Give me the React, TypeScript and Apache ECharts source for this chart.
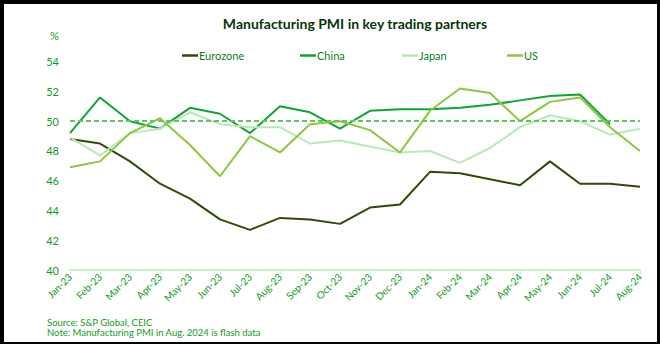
import React, { useEffect, useRef } from "react";
import * as echarts from "echarts";

const categories = [
  "Jan-23", "Feb-23", "Mar-23", "Apr-23", "May-23", "Jun-23", "Jul-23", "Aug-23", "Sep-23", "Oct-23",
  "Nov-23", "Dec-23", "Jan-24", "Feb-24", "Mar-24", "Apr-24", "May-24", "Jun-24", "Jul-24", "Aug-24",
];
const eurozone = [48.8, 48.5, 47.3, 45.8, 44.8, 43.4, 42.7, 43.5, 43.4, 43.1, 44.2, 44.4, 46.6, 46.5, 46.1, 45.7, 47.3, 45.8, 45.8, 45.6];
const china = [49.2, 51.6, 50.0, 49.5, 50.9, 50.5, 49.2, 51.0, 50.6, 49.5, 50.7, 50.8, 50.8, 50.9, 51.1, 51.4, 51.7, 51.8, 49.8, null];
const japan = [48.9, 47.7, 49.2, 49.5, 50.6, 49.8, 49.6, 49.6, 48.5, 48.7, 48.3, 47.9, 48.0, 47.2, 48.2, 49.6, 50.4, 50.0, 49.1, 49.5];
const us = [46.9, 47.3, 49.2, 50.2, 48.4, 46.3, 49.0, 47.9, 49.8, 50.0, 49.4, 47.9, 50.7, 52.2, 51.9, 50.0, 51.3, 51.6, 49.6, 48.0];
const threshold = 50;

const FONT = "Lato";
const TXT = "#129a20";

export default function App() {
  const ref = useRef<HTMLDivElement>(null);
  useEffect(() => {
    if (!ref.current) return;
    const chart = echarts.init(ref.current, undefined, { renderer: "svg" });
    const mk = (name: string, data: (number | null)[], color: string, extra: any = {}) => ({
      name,
      type: "line",
      data,
      symbol: "none",
      showSymbol: false,
      lineStyle: { color, width: 2 },
      itemStyle: { color },
      ...extra,
    });
    const legendPos = [
      { name: "Eurozone", left: 177 },
      { name: "China", left: 295 },
      { name: "Japan", left: 397 },
      { name: "US", left: 502 },
    ];
    chart.setOption({
      animation: false,
      backgroundColor: "#ffffff",
      textStyle: { fontFamily: FONT },
      title: {
        text: "Manufacturing PMI in key trading partners",
        left: 350,
        textAlign: "center",
        top: 11,
        textStyle: { fontFamily: FONT, fontSize: 14, fontWeight: "bold", color: "#07350c" },
      },
      legend: legendPos.map((l) => ({
        data: [l.name],
        left: l.left,
        top: 45,
        icon: "rect",
        itemWidth: 16,
        itemHeight: 2.5,
        textStyle: { fontFamily: FONT, fontSize: 11, color: "#107a1a", padding: [0, 0, 0, -4] },
      })),
      grid: { left: 70, right: 20, top: 61.7, bottom: 74, containLabel: false },
      xAxis: {
        type: "category",
        data: categories,
        boundaryGap: false,
        axisLine: { show: true, lineStyle: { color: "#c9efc9", width: 2 } },
        axisTick: { show: true, interval: 0, length: 4, lineStyle: { color: "#c9efc9", width: 1 } },
        axisLabel: { interval: 0, rotate: 45, margin: 5, fontSize: 10, color: TXT, fontFamily: FONT },
        splitLine: { show: false },
      },
      yAxis: {
        type: "value",
        min: 40,
        max: 54,
        interval: 2,
        axisLine: { show: false },
        axisTick: { show: false },
        splitLine: { show: false },
        axisLabel: { fontSize: 11, color: TXT, margin: 11, fontFamily: FONT },
      },
      graphic: [
        { type: "text", left: 50, top: 30, style: { text: "%", fontSize: 11, fill: TXT, fontFamily: FONT } },
        { type: "text", left: 47, top: 317, style: { text: "Source: S&P Global, CEIC", fontSize: 9.5, fill: TXT, fontFamily: FONT } },
        { type: "text", left: 47, top: 327, style: { text: "Note: Manufacturing PMI in Aug. 2024 is flash data", fontSize: 9.5, fill: TXT, fontFamily: FONT } },
        { type: "rect", shape: { x: 0, y: 0, width: 4, height: 344 }, style: { fill: "#000" }, z: 100 },
        { type: "rect", shape: { x: 0, y: 0, width: 660, height: 4 }, style: { fill: "#000" }, z: 100 },
        { type: "rect", shape: { x: 657, y: 0, width: 3, height: 344 }, style: { fill: "#000" }, z: 100 },
        { type: "rect", shape: { x: 0, y: 342, width: 660, height: 2 }, style: { fill: "#000" }, z: 100 },
      ],
      series: [
        mk("Eurozone", eurozone, "#2f4a0c", {
          markLine: {
            silent: true,
            symbol: "none",
            label: { show: false },
            lineStyle: { color: "#5cc85c", width: 2, type: [5, 3] },
            data: [{ yAxis: threshold }],
          },
        }),
        mk("China", china, "#13a238"),
        mk("Japan", japan, "#b9e8b9"),
        mk("US", us, "#8dc63f"),
      ],
    });
    return () => chart.dispose();
  }, []);
  return (
    <div style={{ position: "fixed", left: 0, top: 0, width: 660, height: 344 }}>
      <div ref={ref} style={{ width: 660, height: 344 }} />
    </div>
  );
}
